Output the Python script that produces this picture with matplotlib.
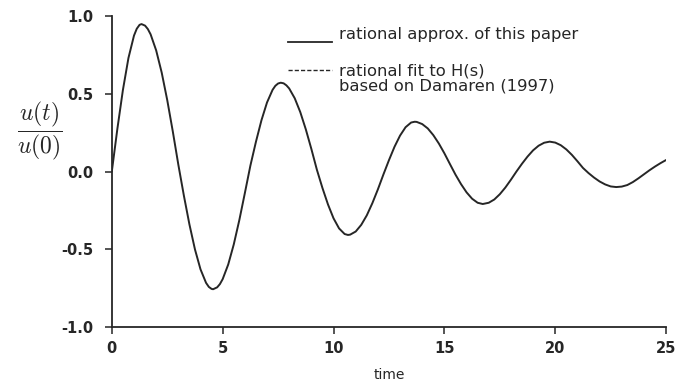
import matplotlib
matplotlib.use("Agg")
import matplotlib.pyplot as plt
from matplotlib.lines import Line2D
from matplotlib.ticker import FixedLocator, FuncFormatter

# ---- data ----
time = [0.0, 0.25, 0.5, 0.75, 1.0, 1.125, 1.25, 1.34, 1.5, 1.625, 1.75, 2.0, 2.25, 2.5, 2.75, 3.0,
        3.25, 3.5, 3.75, 4.0, 4.25, 4.375, 4.5, 4.57, 4.75, 4.875, 5.0, 5.25, 5.5, 5.75, 6.0,
        6.25, 6.5, 6.75, 7.0, 7.25, 7.375, 7.5, 7.62, 7.75, 7.875, 8.0, 8.25, 8.5, 8.75, 9.0,
        9.25, 9.5, 9.75, 10.0, 10.25, 10.5, 10.65, 10.75, 11.0, 11.25, 11.5, 11.75, 12.0,
        12.25, 12.5, 12.75, 13.0, 13.25, 13.5, 13.66, 13.75, 14.0, 14.25, 14.5, 14.75, 15.0,
        15.25, 15.5, 15.75, 16.0, 16.25, 16.5, 16.73, 17.0, 17.25, 17.5, 17.75, 18.0,
        18.25, 18.5, 18.75, 19.0, 19.25, 19.5, 19.75, 20.0, 20.25, 20.5, 20.75, 21.0,
        21.25, 21.5, 21.75, 22.0, 22.25, 22.5, 22.75, 23.0, 23.25, 23.5, 23.75, 24.0,
        24.25, 24.5, 24.75, 25.0]
u_ratio = [0.0, 0.274, 0.524, 0.730, 0.874, 0.918, 0.943, 0.948, 0.938, 0.916, 0.882, 0.779, 0.636, 0.459, 0.258, 0.044,
           -0.155, -0.340, -0.501, -0.629, -0.716, -0.742, -0.755, -0.757, -0.745, -0.724, -0.692, -0.598, -0.469, -0.313, -0.139,
           0.038, 0.191, 0.330, 0.444, 0.525, 0.551, 0.566, 0.571, 0.567, 0.554, 0.534, 0.471, 0.382, 0.271, 0.145,
           0.011, -0.106, -0.212, -0.301, -0.366, -0.402, -0.408, -0.406, -0.386, -0.343, -0.282, -0.204, -0.115,
           -0.019, 0.073, 0.159, 0.231, 0.285, 0.315, 0.320, 0.319, 0.305, 0.277, 0.234, 0.180, 0.117,
           0.048, -0.020, -0.081, -0.134, -0.175, -0.201, -0.209, -0.201, -0.180, -0.146, -0.103, -0.053,
           0.0, 0.050, 0.096, 0.136, 0.166, 0.185, 0.192, 0.186, 0.169, 0.142, 0.107, 0.066,
           0.023, -0.010, -0.039, -0.064, -0.083, -0.096, -0.100, -0.097, -0.087, -0.068, -0.044, -0.018,
           0.008, 0.032, 0.054, 0.074]

x_ticks = [0, 5, 10, 15, 20, 25]
y_ticks = [-1.0, -0.5, 0.0, 0.5, 1.0]
legend_solid = "rational approx. of this paper"
legend_dashed = ["rational fit to H(s)", "based on Damaren (1997)"]

plt.rcParams['font.family'] = ['DejaVu Sans']
plt.rcParams['mathtext.fontset'] = 'cm'

ink = '#262626'
fig = plt.figure(figsize=(6.86, 3.81), dpi=100)
ax = fig.add_axes([0.163, 0.1417, 0.808, 0.8163])

ax.plot(time, u_ratio, color=ink, lw=1.4, solid_capstyle='round', solid_joinstyle='round')

ax.set_xlim(0, 25)
ax.set_ylim(-1, 1)
for s in ('top', 'right'):
    ax.spines[s].set_visible(False)
for s in ('left', 'bottom'):
    ax.spines[s].set_color(ink)
    ax.spines[s].set_linewidth(1.3)

ax.xaxis.set_major_locator(FixedLocator(x_ticks))
ax.yaxis.set_major_locator(FixedLocator(y_ticks))
ax.xaxis.set_major_formatter(FuncFormatter(lambda v, p: f"{v:g}"))
ax.yaxis.set_major_formatter(FuncFormatter(lambda v, p: f"{v:.1f}"))
ax.tick_params(axis='both', direction='out', length=5, width=1.1, color=ink,
               labelsize=10.5, labelcolor=ink)
ax.tick_params(axis='x', pad=5)
ax.tick_params(axis='y', pad=8)
for lab in ax.get_xticklabels() + ax.get_yticklabels():
    lab.set_fontweight('bold')

ax.set_xlabel('time', fontsize=10, color=ink, labelpad=9)

fig.text(0.058, 0.656, r'$\dfrac{u(t)}{u(0)}$', fontsize=17, color=ink,
         ha='center', va='center')

# legend (decoration, axes-fraction coordinates)
ax.add_line(Line2D([0.318, 0.397], [0.917, 0.917], transform=ax.transAxes,
                   color=ink, lw=1.3))
ax.add_line(Line2D([0.318, 0.397], [0.826, 0.826], transform=ax.transAxes,
                   color=ink, lw=1.0, ls=(0, (3, 1.5))))
ax.text(0.410, 0.926, legend_solid, transform=ax.transAxes, fontsize=11.8,
        color=ink, va='baseline', ha='left')
ax.text(0.410, 0.810, legend_dashed[0], transform=ax.transAxes, fontsize=11.8,
        color=ink, va='baseline', ha='left')
ax.text(0.410, 0.762, legend_dashed[1], transform=ax.transAxes, fontsize=11.8,
        color=ink, va='baseline', ha='left')

fig.savefig('out.png', dpi=100)
